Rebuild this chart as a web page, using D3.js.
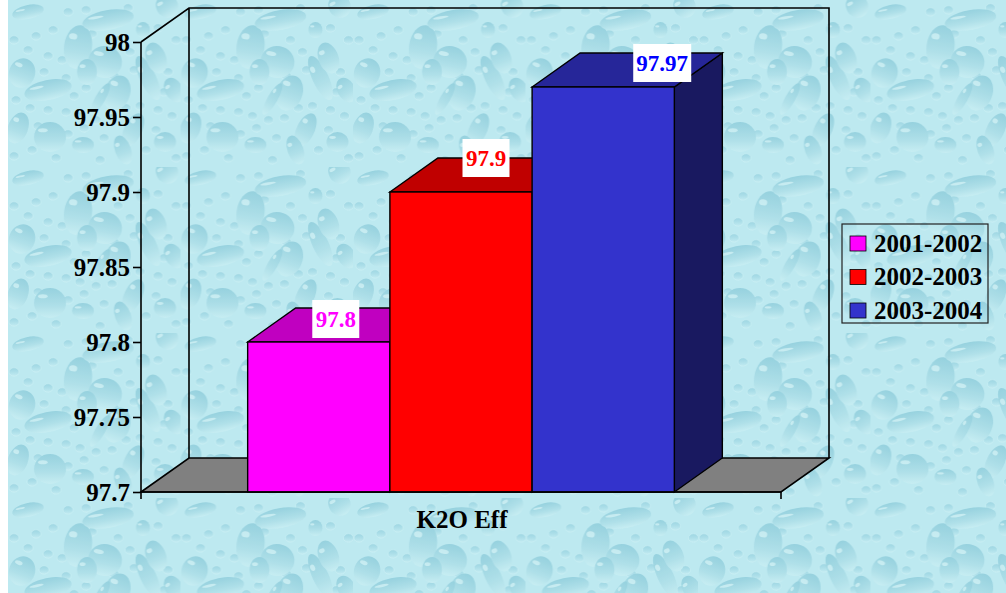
<!DOCTYPE html>
<html><head><meta charset="utf-8">
<script src="https://cdn.jsdelivr.net/npm/d3@7"></script>
<style>
html,body{margin:0;padding:0;background:#fff;overflow:hidden}
svg{display:block;font-family:"Liberation Serif",serif;font-weight:bold}
</style></head><body>
<svg id="c" width="1006" height="593"></svg>
<script>
// ---- chart data ----
const categories = ["K2O Eff"];
const seriesNames = ["2001-2002","2002-2003","2003-2004"];
const seriesValues = [97.8,97.9,97.97];
const labelTexts = ["97.8","97.9","97.97"];
const tickValues = [97.7,97.75,97.8,97.85,97.9,97.95,98];
const tickLabels = ["97.7","97.75","97.8","97.85","97.9","97.95","98"];
// ---- styles ----
const frontColors = ["#ff00ff","#ff0000","#3333cc"];
const topColors = ["#c000c0","#c00000","#262699"];
const sideColors = ["#990099","#990000","#191960"];
const labelColors = ["#ff00ff","#ff0000","#0000ff"];
// ---- layout ----
const W=1006,H=593,depthX=48,depthY=34;
const labelNudge=[[17,-23],[25,-34],[59,-24]];
const svg=d3.select("#c");
const defs=svg.append("defs");

// water-drop wallpaper: [cx,cy,rx,ry,rotation] in one repeating tile
const tileW=172.5,tileH=166;
const bigDrops=[[20,12,16,7,-12],[70,47,14,22,8],[100,20,26,10,-10],[97,62,17,16,10],[42,137,16,15,0],
[40,90,24,10,-12],[109,93,13,18,20],[92,99,5,18,30],[79,72,10,13,0],[14,73,13,15,20],[140,78,8,24,-25],
[125,130,9,18,25],[159,6,11,12,-30],[148,58,10,16,-20],[166,90,9,13,-30],[135,30,7,8,0],[10,128,10,16,20],
[75,145,11,8,0],[115,150,8,15,-20],[157,142,11,10,0]];
const smallDrops=[[28,36],[45,30],[60,12],[78,10],[120,8],[122,52],[150,28],[168,40],[6,40],[20,50],[40,56],[54,60],
[36,72],[58,78],[66,96],[78,88],[8,100],[22,108],[40,110],[58,112],[72,116],[88,120],[104,118],[118,108],[132,106],
[150,110],[164,116],[148,130],[138,150],[96,138],[60,134],[24,150],[6,156],[48,158],[92,160],[168,158],[110,40],[84,34],
[160,72],[126,70],[106,76],[30,126],[76,128],[156,92]];
const drop=defs.append("linearGradient").attr("id","dg").attr("x1",0).attr("y1",0).attr("x2",0).attr("y2",1);
drop.append("stop").attr("offset",0).attr("stop-color","#8ccbda");
drop.append("stop").attr("offset",.6).attr("stop-color","#abdde7");
drop.append("stop").attr("offset",1).attr("stop-color","#c9eef3");
defs.append("filter").attr("id","soft").append("feGaussianBlur").attr("stdDeviation",.7);
const pat=defs.append("pattern").attr("id","water").attr("patternUnits","userSpaceOnUse")
  .attr("x",8).attr("y",0).attr("width",tileW).attr("height",tileH);
pat.append("rect").attr("width",tileW).attr("height",tileH).attr("fill","#bde9f0");
const pg=pat.append("g").attr("filter","url(#soft)").attr("opacity",.8);
pg.selectAll(".s").data(smallDrops).join("ellipse").attr("cx",d=>d[0]).attr("cy",d=>d[1]).attr("rx",5).attr("ry",4.2)
  .attr("fill","url(#dg)").attr("stroke","#d4f3f7").attr("stroke-width",.6).attr("opacity",.8);
const bg=pg.selectAll(".b").data(bigDrops).join("g").attr("transform",d=>`translate(${d[0]},${d[1]}) rotate(${d[4]})`);
bg.append("ellipse").attr("rx",d=>d[2]).attr("ry",d=>d[3]).attr("fill","url(#dg)");
bg.append("ellipse").attr("cx",d=>-d[2]*.45).attr("cy",d=>-d[3]*.45).attr("rx",d=>d[2]*.3).attr("ry",d=>d[3]*.14)
  .attr("fill","#e8fbfc").attr("opacity",.6);

svg.append("rect").attr("x",8).attr("y",0).attr("width",W-8).attr("height",H).attr("fill","url(#water)");

// ---- scales ----
const y=d3.scaleLinear().domain([97.7,98]).range([492,42]);
const x0=d3.scaleBand().domain(categories).range([141,781]);
const inner=x0.bandwidth()*2/3;
const x1=d3.scaleBand().domain(seriesNames)
  .range([x0(categories[0])+x0.bandwidth()/2-inner/2,x0(categories[0])+x0.bandwidth()/2+inner/2]);
const line=d3.line();
const L=141,R=781,B=y(97.7),T=y(98);

// ---- walls and floor ----
svg.append("path").attr("d",line([[L,B],[L+depthX,B-depthY],[R+depthX,B-depthY],[R,B]])+"Z")
  .attr("fill","#808080").attr("stroke","#000").attr("stroke-width",1.6);
svg.append("path").attr("fill","none").attr("stroke","#000").attr("stroke-width",1.6)
  .attr("d",line([[L,T],[L+depthX,T-depthY],[R+depthX,T-depthY],[R+depthX,B-depthY]])+line([[L+depthX,T-depthY],[L+depthX,B-depthY]]));

// ---- bars ----
const bars=svg.selectAll(".bar").data(seriesValues).join("g");
const bw=x1.bandwidth();
const xs=(d,i)=>x1(seriesNames[i]);
bars.append("path").attr("fill",(d,i)=>sideColors[i]).attr("stroke","#000").attr("stroke-width",1.4)
  .attr("d",(d,i)=>line([[xs(d,i)+bw,y(d)],[xs(d,i)+bw+depthX,y(d)-depthY],[xs(d,i)+bw+depthX,B-depthY],[xs(d,i)+bw,B]])+"Z");
bars.append("path").attr("fill",(d,i)=>topColors[i]).attr("stroke","#000").attr("stroke-width",1.4)
  .attr("d",(d,i)=>line([[xs(d,i),y(d)],[xs(d,i)+depthX,y(d)-depthY],[xs(d,i)+bw+depthX,y(d)-depthY],[xs(d,i)+bw,y(d)]])+"Z");
bars.append("rect").attr("x",xs).attr("y",d=>y(d)).attr("width",bw).attr("height",d=>B-y(d))
  .attr("fill",(d,i)=>frontColors[i]).attr("stroke","#000").attr("stroke-width",1.4);

// ---- axes ----
const yAxis=d3.axisLeft(y).tickValues(tickValues).tickSize(8).tickPadding(3).tickFormat((d,i)=>tickLabels[i]);
const gy=svg.append("g").attr("transform",`translate(${L},0)`).call(yAxis);
gy.select(".domain").remove();
gy.selectAll("line").attr("stroke","#000").attr("stroke-width",1.6);
gy.selectAll("text").attr("fill","#000").attr("font-size",25).attr("font-family","Liberation Serif").attr("font-weight","bold").attr("dy","0.34em");
svg.append("path").attr("stroke","#000").attr("stroke-width",1.6).attr("fill","none")
  .attr("d",line([[L,T],[L,B+7]])+line([[L,B],[R,B]])+line([[R,B],[R,B+7]]));
svg.append("text").attr("x",x0(categories[0])+x0.bandwidth()/2+1).attr("y",528).attr("text-anchor","middle")
  .attr("font-size",25).text(categories[0]);

// ---- value labels ----
const lab=svg.selectAll(".lab").data(seriesValues).join("g")
  .attr("transform",(d,i)=>`translate(${xs(d,i)+bw/2+labelNudge[i][0]},${y(d)+labelNudge[i][1]})`);
lab.append("rect").attr("x",(d,i)=>i==2?-29:-23.5).attr("y",-19).attr("width",(d,i)=>i==2?58:47).attr("height",38).attr("fill","#fff");
lab.append("text").attr("text-anchor","middle").attr("y",8).attr("font-size",23).attr("fill",(d,i)=>labelColors[i]).text((d,i)=>labelTexts[i]);

// ---- legend ----
const lg=svg.append("g").attr("transform","translate(842,224)");
lg.append("rect").attr("width",146).attr("height",99).attr("fill","none").attr("stroke","#222").attr("stroke-width",1.2);
const li=lg.selectAll(".li").data(seriesNames).join("g").attr("transform",(d,i)=>`translate(0,${10+i*33.5})`);
li.append("rect").attr("x",8).attr("y",2).attr("width",16).attr("height",15).attr("fill",(d,i)=>frontColors[i]).attr("stroke","#000").attr("stroke-width",.8);
li.append("text").attr("x",32).attr("y",17.5).attr("font-size",25).attr("fill","#000").text(d=>d);
</script></body></html>
